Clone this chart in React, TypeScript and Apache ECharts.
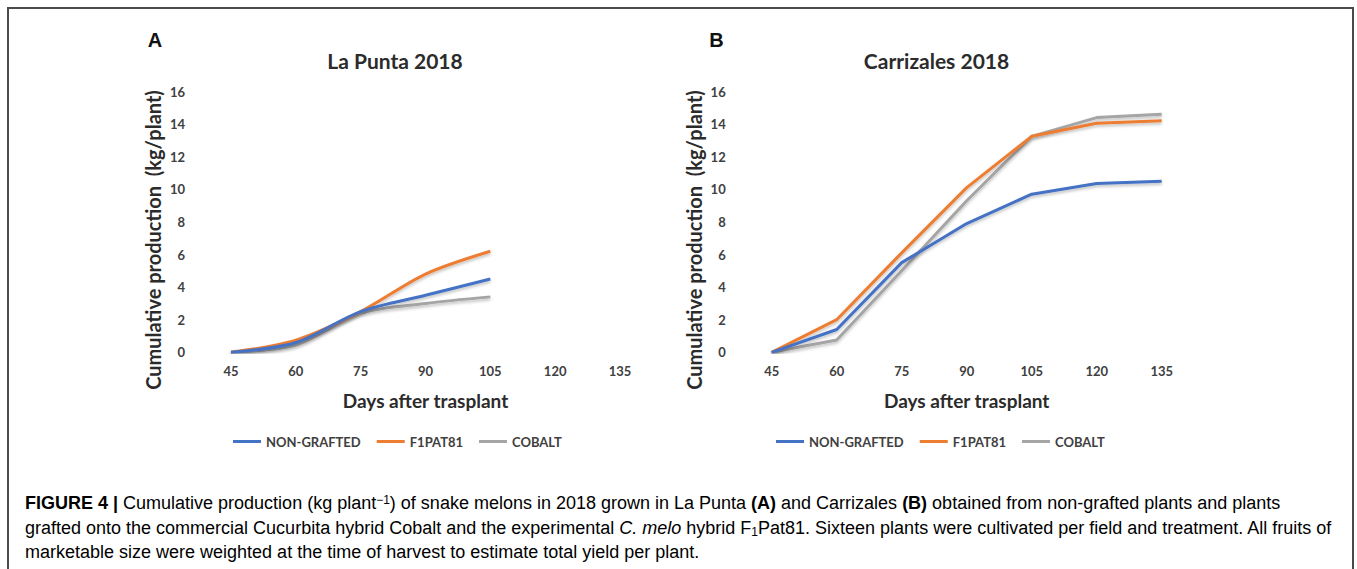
import React, { useEffect, useRef } from "react";
import * as echarts from "echarts";

const days = [45, 60, 75, 90, 105, 120, 135];
const seriesNames = ["NON-GRAFTED", "F1PAT81", "COBALT"];
const seriesColors = ["#4472C4", "#ED7D31", "#A5A5A5"];

// La Punta 2018 (A) — harvest only up to day 105
const laPuntaNonGrafted = [0, 0.6, 2.5, 3.5, 4.5];
const laPuntaF1Pat81 = [0, 0.75, 2.5, 4.8, 6.2];
const laPuntaCobalt = [0, 0.45, 2.4, 3.0, 3.4];

// Carrizales 2018 (B)
const carrizalesNonGrafted = [0, 1.4, 5.5, 7.9, 9.7, 10.35, 10.5];
const carrizalesF1Pat81 = [0, 2.0, 6.1, 10.1, 13.25, 14.05, 14.2];
const carrizalesCobalt = [0, 0.75, 5.0, 9.3, 13.25, 14.4, 14.6];

const yTicks = [0, 2, 4, 6, 8, 10, 12, 14, 16];

const panelTitles = ["La Punta 2018", "Carrizales 2018"];
const panelLetters = ["A", "B"];
const xTitle = "Days after trasplant";
const yTitle = "Cumulative production  (kg/plant)";

const FONT = "Lato";
const TXT = "#2b2b2b";

const pairs = (vals: number[]) => vals.map((v, i) => [days[i], v]);

export default function App() {
  const ref = useRef<HTMLDivElement>(null);
  useEffect(() => {
    if (!ref.current) return;
    const chart = echarts.init(ref.current, undefined, { renderer: "svg" });

    const grids = [
      { left: 231, right: 1357 - 620, top: 91.5, bottom: 569 - 352.3 },
      { left: 771.7, right: 1357 - 1161.7, top: 91.5, bottom: 569 - 352.3 },
    ];

    const xAxis = grids.map((_, i) => ({
      type: "value",
      gridIndex: i,
      min: 45,
      max: 135,
      interval: 15,
      axisLine: { show: false },
      axisTick: { show: false },
      splitLine: { show: false },
      axisLabel: {
        margin: 12,
        fontFamily: FONT,
        fontWeight: "bold",
        fontSize: 13,
        color: "#404040",
      },
    }));
    const yAxis = grids.map((_, i) => ({
      type: "value",
      gridIndex: i,
      min: yTicks[0],
      max: yTicks[yTicks.length - 1],
      interval: 2,
      axisLine: { show: false },
      axisTick: { show: false },
      splitLine: { show: false },
      axisLabel: {
        margin: 46,
        fontFamily: FONT,
        fontWeight: "bold",
        fontSize: 13,
        color: "#404040",
      },
    }));

    const panels = [
      [laPuntaNonGrafted, laPuntaF1Pat81, laPuntaCobalt],
      [carrizalesNonGrafted, carrizalesF1Pat81, carrizalesCobalt],
    ];
    const series: any[] = [];
    panels.forEach((set, p) => {
      set.forEach((vals, s) => {
        series.push({
          type: "line",
          name: seriesNames[s],
          xAxisIndex: p,
          yAxisIndex: p,
          data: pairs(vals),
          showSymbol: false,
          symbol: "none",
          smooth: p === 0 ? 0.3 : false,
          color: seriesColors[s],
          lineStyle: {
            width: 3,
            color: seriesColors[s],
            shadowBlur: 3,
            shadowColor: "rgba(0,0,0,0.25)",
            shadowOffsetY: 2,
          },
          z: 10 - s,
        });
      });
    });

    const legendBase = {
      orient: "horizontal",
      top: 435,
      padding: 0,
      icon: "rect",
      itemWidth: 28,
      itemHeight: 3,
      itemGap: 16,
      selectedMode: false,
      data: seriesNames,
      textStyle: { fontFamily: FONT, fontWeight: "bold", fontSize: 13, color: "#404040" },
    };

    const capFont = "Liberation Sans";
    const capSize = 18;
    const capColor = "#333333";
    const rich = {
      n: { fontFamily: capFont, fontSize: capSize, color: capColor },
      b: { fontFamily: capFont, fontSize: capSize, fontWeight: "bold", color: capColor },
      i: { fontFamily: capFont, fontSize: capSize, fontStyle: "italic", color: capColor },
      sup: { fontFamily: capFont, fontSize: 12, color: capColor, verticalAlign: "top", padding: [0, 0, 7, 0] },
      sub: { fontFamily: capFont, fontSize: 12, color: capColor, verticalAlign: "bottom", padding: [7, 0, 0, 0] },
    };
    const captionLines = [
      "{b|FIGURE 4 |}{n| Cumulative production (kg plant}{sup|−1}{n|) of snake melons in 2018 grown in La Punta }{b|(A)}{n| and Carrizales }{b|(B)}{n| obtained from non-grafted plants and plants}",
      "{n|grafted onto the commercial Cucurbita hybrid Cobalt and the experimental }{i|C. melo}{n| hybrid F}{sub|1}{n|Pat81. Sixteen plants were cultivated per field and treatment. All fruits of}",
      "{n|marketable size were weighted at the time of harvest to estimate total yield per plant.}",
    ];
    const captionY = [503, 528, 552];

    const graphic: any[] = [
      {
        type: "rect",
        shape: { x: 8, y: 8, width: 1345, height: 620 },
        style: { fill: "none", stroke: "#4a4a4a", lineWidth: 2 },
        silent: true,
      },
    ];
    const letterX = [155, 716.5];
    const titleX = [395, 936.5];
    const xTitleX = [425.5, 966.7];
    const yTitleX = [153, 694];
    [0, 1].forEach((p) => {
      graphic.push({
        type: "text",
        x: letterX[p],
        y: 40,
        style: {
          text: panelLetters[p],
          fontFamily: "Liberation Sans",
          fontWeight: "bold",
          fontSize: 20,
          fill: "#111",
          align: "center",
          verticalAlign: "middle",
        },
      });
      graphic.push({
        type: "text",
        x: titleX[p],
        y: 60,
        style: {
          text: panelTitles[p],
          fontFamily: FONT,
          fontWeight: "bold",
          fontSize: 21,
          fill: TXT,
          align: "center",
          verticalAlign: "middle",
        },
      });
      graphic.push({
        type: "text",
        x: xTitleX[p],
        y: 400,
        style: {
          text: xTitle,
          fontFamily: FONT,
          fontWeight: "bold",
          fontSize: 19,
          fill: TXT,
          align: "center",
          verticalAlign: "middle",
        },
      });
      graphic.push({
        type: "text",
        x: yTitleX[p],
        y: 240,
        rotation: Math.PI / 2,
        style: {
          text: yTitle,
          fontFamily: FONT,
          fontWeight: "bold",
          fontSize: 20,
          fill: TXT,
          align: "center",
          verticalAlign: "middle",
        },
      });
    });
    captionLines.forEach((line, k) => {
      graphic.push({
        type: "text",
        x: 25,
        y: captionY[k],
        style: {
          text: line,
          rich,
          align: "left",
          verticalAlign: "middle",
        },
      });
    });

    chart.setOption({
      animation: false,
      backgroundColor: "#ffffff",
      grid: grids,
      xAxis,
      yAxis,
      series,
      legend: [
        { ...legendBase, left: 233 },
        { ...legendBase, left: 776 },
      ],
      graphic,
    });
    return () => chart.dispose();
  }, []);

  return (
    <div
      ref={ref}
      style={{ position: "absolute", left: 0, top: 0, width: 1357, height: 569 }}
    />
  );
}
